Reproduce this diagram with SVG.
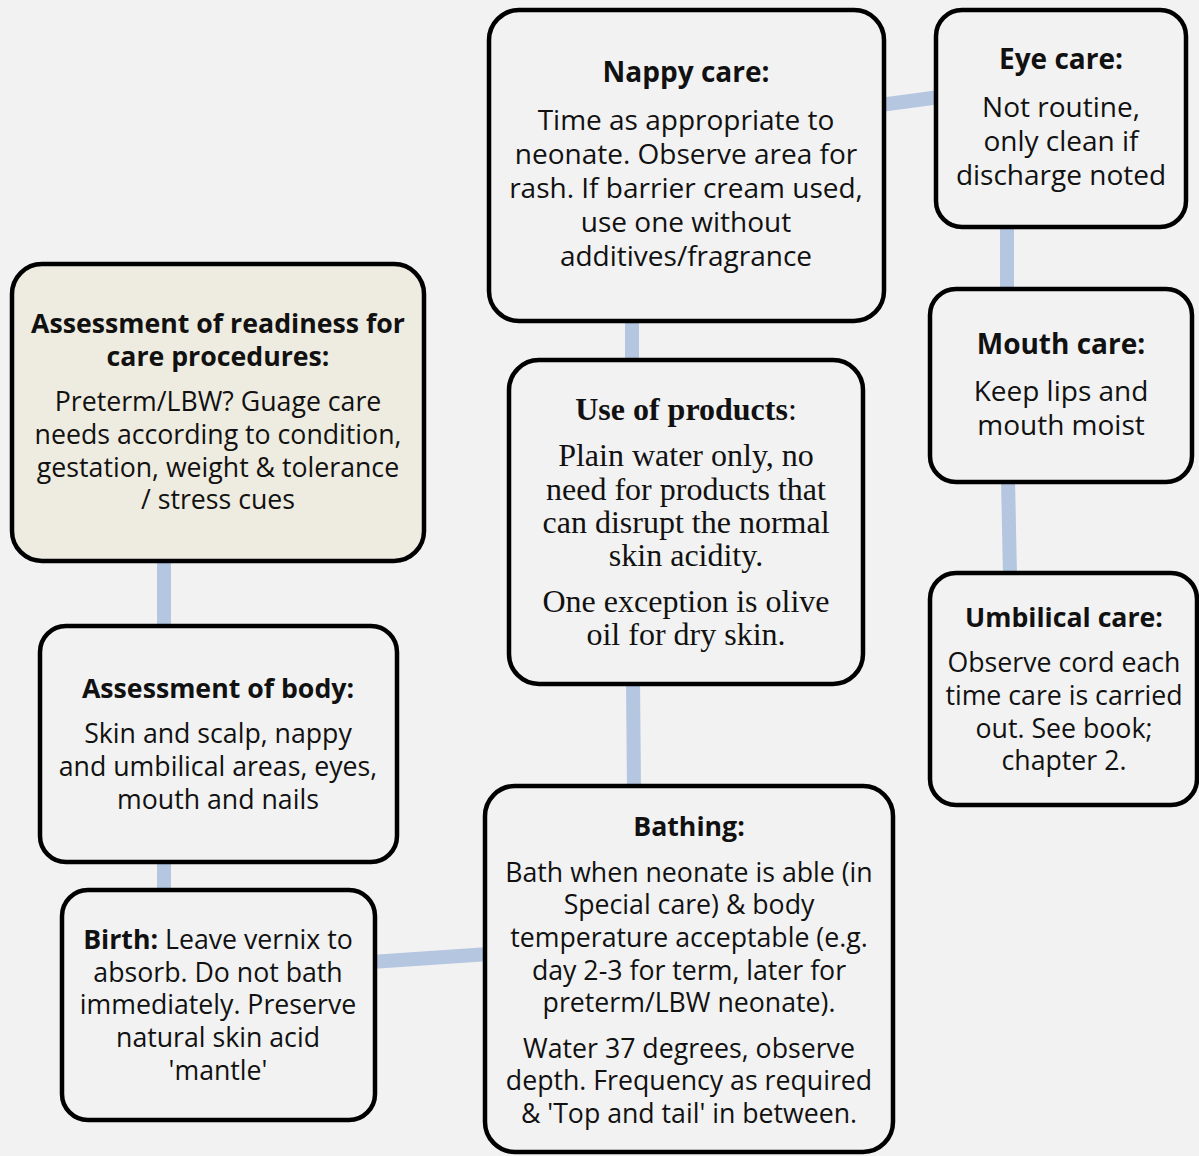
<svg xmlns="http://www.w3.org/2000/svg" width="1199" height="1156" viewBox="0 0 1199 1156">
<style>
.bg{fill:#f2f2f2}
.box{fill:#f2f2f2;stroke:#000;stroke-width:4.5}
.tan{fill:#eeebe0}
.conn{stroke:#b4c6e0;stroke-width:14;fill:none}
text{font-family:"Open Sans","Noto Sans",sans-serif;font-size:26.7px;fill:#111;text-anchor:middle}
.lg{font-size:28px}
.b{font-weight:bold}
.serif{font-family:"Liberation Serif","Times New Roman",serif;font-size:32px}
</style>
<rect class="bg" x="0" y="0" width="1199" height="1156"/>
<g id="connectors">
<line class="conn" x1="880" y1="105" x2="940" y2="97"/>
<line class="conn" x1="632" y1="318" x2="632" y2="364"/>
<line class="conn" x1="1007" y1="224" x2="1007" y2="292"/>
<line class="conn" x1="1008" y1="479" x2="1010" y2="576"/>
<line class="conn" x1="164" y1="558" x2="164" y2="629"/>
<line class="conn" x1="164" y1="859" x2="164" y2="893"/>
<line class="conn" x1="371" y1="962" x2="489" y2="954"/>
<line class="conn" x1="633" y1="681" x2="634" y2="790"/>
</g>
<g id="nappy">
<rect class="box" x="489" y="10" width="395" height="311" rx="30"/>
<text class="b lg" x="686" y="82">Nappy care:</text>
<text class="lg" x="686" y="130">Time as appropriate to</text>
<text class="lg" x="686" y="164">neonate. Observe area for</text>
<text class="lg" x="686" y="198">rash. If barrier cream used,</text>
<text class="lg" x="686" y="232">use one without</text>
<text class="lg" x="686" y="266">additives/fragrance</text>
</g>
<g id="eye">
<rect class="box" x="936" y="10" width="250" height="217" rx="26"/>
<text class="b lg" x="1061" y="69">Eye care:</text>
<text class="lg" x="1061" y="117">Not routine,</text>
<text class="lg" x="1061" y="151">only clean if</text>
<text class="lg" x="1061" y="185">discharge noted</text>
</g>
<g id="mouth">
<rect class="box" x="930" y="289" width="262" height="193" rx="26"/>
<text class="b lg" x="1061" y="354">Mouth care:</text>
<text class="lg" x="1061" y="401">Keep lips and</text>
<text class="lg" x="1061" y="435">mouth moist</text>
</g>
<g id="umbilical">
<rect class="box" x="930" y="573" width="267" height="232" rx="26"/>
<text class="b" x="1064" y="627">Umbilical care:</text>
<text x="1064" y="672">Observe cord each</text>
<text x="1064" y="705">time care is carried</text>
<text x="1064" y="738">out. See book;</text>
<text x="1064" y="770">chapter 2.</text>
</g>
<g id="readiness">
<rect class="box tan" x="12" y="264" width="412" height="297" rx="30"/>
<text class="b" x="218" y="333">Assessment of readiness for</text>
<text class="b" x="218" y="366">care procedures:</text>
<text x="218" y="411">Preterm/LBW? Guage care</text>
<text x="218" y="444">needs according to condition,</text>
<text x="218" y="477">gestation, weight &amp; tolerance</text>
<text x="218" y="509">/ stress cues</text>
</g>
<g id="body">
<rect class="box" x="40" y="626" width="357" height="236" rx="26"/>
<text class="b" x="218" y="698">Assessment of body:</text>
<text x="218" y="743">Skin and scalp, nappy</text>
<text x="218" y="776">and umbilical areas, eyes,</text>
<text x="218" y="809">mouth and nails</text>
</g>
<g id="birth">
<rect class="box" x="62" y="890" width="313" height="230" rx="26"/>
<text x="218" y="949"><tspan class="b">Birth:</tspan> Leave vernix to</text>
<text x="218" y="982">absorb. Do not bath</text>
<text x="218" y="1014">immediately. Preserve</text>
<text x="218" y="1047">natural skin acid</text>
<text x="218" y="1080">'mantle'</text>
</g>
<g id="products">
<rect class="box" x="509" y="360" width="354" height="324" rx="30"/>
<text class="serif" x="686" y="420"><tspan class="b">Use of products</tspan>:</text>
<text class="serif" x="686" y="466">Plain water only, no</text>
<text class="serif" x="686" y="500">need for products that</text>
<text class="serif" x="686" y="533">can disrupt the normal</text>
<text class="serif" x="686" y="566">skin acidity.</text>
<text class="serif" x="686" y="612">One exception is olive</text>
<text class="serif" x="686" y="645">oil for dry skin.</text>
</g>
<g id="bathing">
<rect class="box" x="485" y="786" width="408" height="366" rx="30"/>
<text class="b" x="689" y="836">Bathing:</text>
<text x="689" y="882">Bath when neonate is able (in</text>
<text x="689" y="914">Special care) &amp; body</text>
<text x="689" y="947">temperature acceptable (e.g.</text>
<text x="689" y="980">day 2-3 for term, later for</text>
<text x="689" y="1012">preterm/LBW neonate).</text>
<text x="689" y="1058">Water 37 degrees, observe</text>
<text x="689" y="1090">depth. Frequency as required</text>
<text x="689" y="1123">&amp; 'Top and tail' in between.</text>
</g>
</svg>
